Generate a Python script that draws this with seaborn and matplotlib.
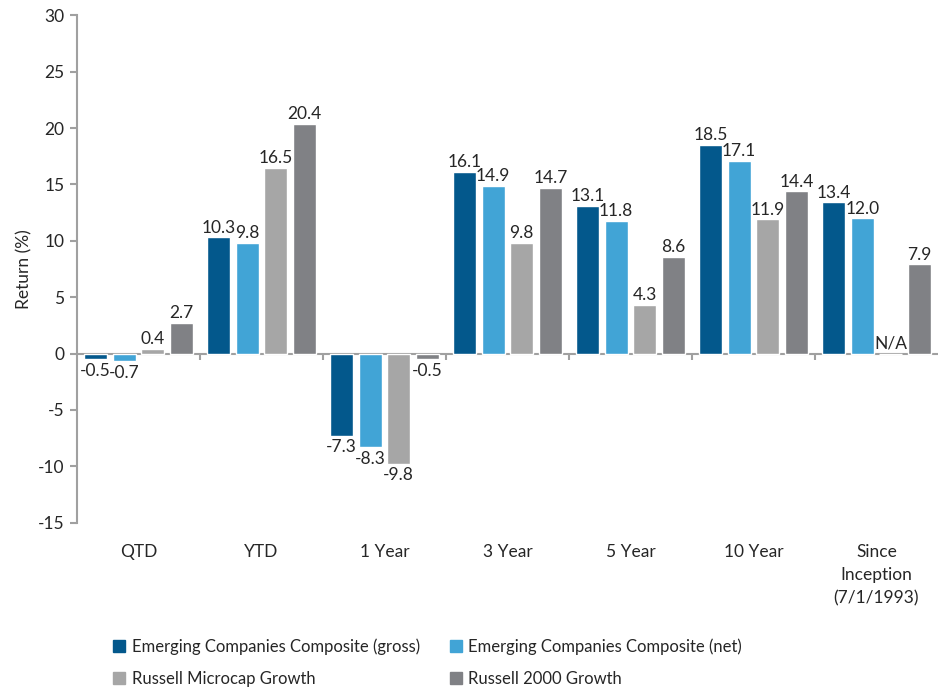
import numpy as np
import pandas as pd
import seaborn as sns
import matplotlib.pyplot as plt

# ------------ data ----------------
periods = ["QTD", "YTD", "1 Year", "3 Year", "5 Year", "10 Year",
           "Since\nInception\n(7/1/1993)"]
series_names = ["Emerging Companies Composite (gross)",
                "Emerging Companies Composite (net)",
                "Russell Microcap Growth",
                "Russell 2000 Growth"]
gross = [-0.5, 10.3, -7.3, 16.1, 13.1, 18.5, 13.4]
net = [-0.7, 9.8, -8.3, 14.9, 11.8, 17.1, 12.0]
microcap = [0.4, 16.5, -9.8, 9.8, 4.3, 11.9, np.nan]
r2000 = [2.7, 20.4, -0.5, 14.7, 8.6, 14.4, 7.9]
colors = ["#03588C", "#41A4D6", "#A6A6A6", "#808185"]

rows = []
for name, vals in zip(series_names, [gross, net, microcap, r2000]):
    for p, v in zip(periods, vals):
        rows.append({"period": p, "series": name, "value": v})
df = pd.DataFrame(rows)
df["plot_value"] = df["value"].fillna(0)

# ------------ plot ----------------
sns.set_style("white")
plt.rcParams["font.family"] = ["Lato", "DejaVu Sans"]
plt.rcParams["axes.unicode_minus"] = False
fs = 12.5

fig = plt.figure(figsize=(9.38, 6.96), dpi=100)
ax = fig.add_axes([0.082, 0.249, 0.918, 0.729])

sns.barplot(data=df, x="period", y="plot_value", hue="series",
            palette=colors, width=0.93, gap=0.2, ax=ax,
            legend=False, errorbar=None, saturation=1)

# value labels
for cont, name in zip(ax.containers, series_names):
    sub = df[df["series"] == name]
    for bar, v in zip(cont.patches, sub["value"]):
        xc = bar.get_x() + bar.get_width() / 2
        if np.isnan(v):
            ax.text(xc, 0.15, "N/A", ha="center", va="bottom", fontsize=fs)
        elif v >= 0:
            ax.text(xc, v + 0.15, f"{v:.1f}", ha="center", va="bottom", fontsize=fs)
        else:
            ax.text(xc, v - 0.3, f"{v:.1f}", ha="center", va="top", fontsize=fs)

ax.set_ylim(-15, 30)
ax.set_yticks(range(-15, 31, 5))
ax.set_xlim(-0.5, len(periods) - 0.5)
ax.set_ylabel("Return (%)", fontsize=fs)
ax.set_xlabel("")

spine_col = "#A0A0A0"
for s in ["top", "right", "bottom"]:
    ax.spines[s].set_visible(False)
ax.spines["left"].set_color(spine_col)
ax.spines["left"].set_linewidth(1.5)
ax.axhline(0, color=spine_col, lw=1.5, zorder=0.5)
# separators below the zero line between groups
ax.vlines(np.arange(len(periods) - 1) + 0.5, -0.6, 0, color=spine_col, lw=1.5)

ax.tick_params(axis="y", length=5, color=spine_col, width=1.5, labelsize=fs, pad=4, left=True)
ax.tick_params(axis="x", length=0, labelsize=fs, pad=15)
ax.set_xticks(range(len(periods)))
ax.set_xticklabels(periods, va="top", linespacing=1.55)

# legend filled row by row: gross, net / microcap, r2000
handles = [plt.Rectangle((0, 0), 1, 1, color=c) for c in colors]
order = [0, 2, 1, 3]
fig.legend([handles[i] for i in order], [series_names[i] for i in order],
           ncol=2, loc="lower left",
           bbox_to_anchor=(0.105, -0.008), frameon=False, fontsize=12,
           handlelength=0.7, handleheight=0.7, handletextpad=0.4,
           columnspacing=1.8, labelspacing=0.95)

fig.savefig("out.png", dpi=100)
